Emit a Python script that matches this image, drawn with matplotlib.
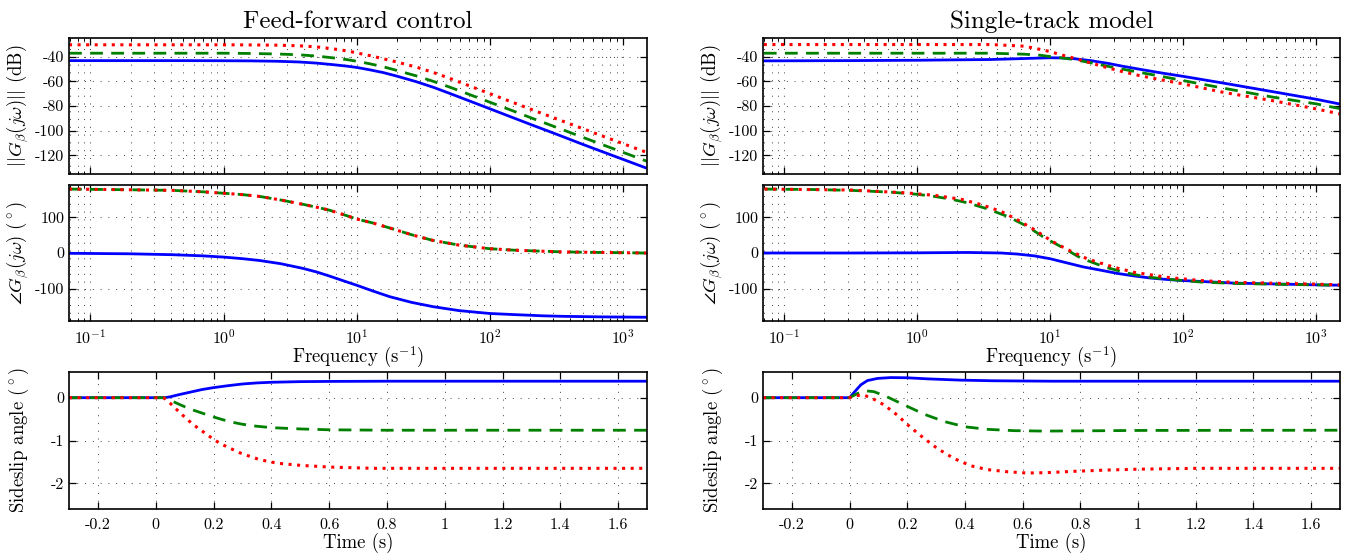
import matplotlib
matplotlib.use("Agg")
import matplotlib.pyplot as plt
from matplotlib.ticker import FixedLocator, FuncFormatter, LogLocator, NullFormatter

plt.rcParams['font.family'] = ['cmr10', 'DejaVu Serif']
plt.rcParams['mathtext.fontset'] = 'cm'
plt.rcParams['axes.unicode_minus'] = False
plt.rcParams['axes.formatter.use_mathtext'] = True

# ---------------- data ----------------
titles = ["Feed-forward control", "Single-track model"]

# Feed-forward: magnitude (dB)
ff_mag_w = [0.069, 0.2, 0.5, 1.0, 1.57, 2.5, 3.7, 5.0, 6.7, 8.5, 10, 12.5, 15.9, 20, 28, 38, 50, 70, 100, 150, 213, 300, 508, 700, 1000, 1520]
ff_mag_blue = [-43.3, -43.3, -43.3, -43.4, -43.5, -43.8, -44.4, -45.3, -46.6, -47.8, -48.8, -50.7, -53.0, -55.8, -60.3, -65.0, -69.8, -75.8, -82.2, -89.5, -95.8, -101.8, -111.3, -116.9, -123.1, -130.4]
ff_mag_green = [-37.3, -37.3, -37.3, -37.3, -37.5, -37.9, -38.6, -39.6, -41.1, -42.5, -43.8, -45.8, -48.3, -51.2, -55.6, -60.2, -64.7, -70.6, -76.9, -84.0, -90.3, -96.3, -105.6, -111.2, -117.4, -124.7]
ff_mag_red = [-30.5, -30.5, -30.5, -30.5, -30.6, -30.8, -31.3, -32.2, -33.8, -35.5, -37.0, -39.2, -41.8, -44.4, -48.5, -53.0, -57.6, -63.6, -70.0, -77.2, -83.4, -89.4, -98.6, -104.2, -110.4, -117.6]

# Single-track: magnitude (dB)
st_mag_w = [0.07, 0.3, 1.0, 1.51, 3.59, 6.38, 8.5, 10, 12, 15.1, 20.2, 26.9, 35, 47.9, 70, 100, 202, 479, 1000, 1500]
st_mag_blue = [-43.5, -43.3, -43.0, -42.8, -42.4, -41.6, -41.2, -41.0, -41.1, -41.7, -43.3, -45.4, -47.8, -50.4, -53.4, -56.0, -61.5, -68.5, -74.5, -78.3]
st_mag_green = [-37.3, -37.3, -37.3, -37.3, -37.3, -38.1, -39.0, -40.0, -41.0, -42.4, -45.0, -47.8, -50.2, -52.9, -56.2, -59.4, -65.6, -72.9, -78.2, -82.0]
st_mag_red = [-30.3, -30.3, -30.3, -30.3, -30.3, -31.6, -34.3, -36.0, -38.5, -41.3, -45.2, -49.0, -52.2, -55.6, -59.0, -62.1, -69.0, -75.8, -82.3, -86.3]

# Feed-forward: phase (deg)
ff_ph_w = [0.069, 0.196, 0.416, 0.7, 1.0, 1.4, 1.87, 2.7, 3.95, 5.0, 6.2, 8.0, 10, 13.2, 17.7, 25.9, 37.6, 59, 100, 150, 250, 358, 700, 1510]
ff_ph_blue = [-0.8, -2.2, -4.8, -8, -11.4, -16, -21, -30, -43, -53, -64, -78, -90, -106, -122, -138, -150, -161, -169, -172, -175.5, -177, -178.5, -179.5]
ff_ph_green = [178.6, 176.7, 175, 171, 167, 163, 158, 148, 136, 128, 120, 107, 95, 84, 70, 51, 35, 22, 12, 8, 5, 3, 1.5, 0]
ff_ph_red = [178.6, 176.7, 175, 171, 167, 163, 158, 148, 136, 128, 120, 107, 95, 84, 70, 51, 35, 22, 12, 8, 5, 3, 1.5, 0]

# Single-track: phase (deg)
st_ph_w_blue = [0.0708, 0.316, 1.0, 2.4, 4.27, 5.69, 7.59, 10, 13.5, 17.8, 24, 32, 42.7, 57, 75.9, 100, 240, 1000, 1514]
st_ph_blue = [0, 0, 0.5, 1.5, 0, -3, -8, -16, -28, -39, -48, -57, -64, -70, -74, -77, -84, -89, -90]
st_ph_w_green = [0.0708, 0.158, 0.316, 0.631, 1.0, 1.35, 1.82, 2.4, 3.39, 4.79, 6.76, 9.12, 12.9, 17.0, 25.7, 38.0, 53.7, 75.9, 135, 240, 631, 1000, 1514]
st_ph_green = [178.6, 177.5, 175, 170, 164, 158, 150, 140, 123, 102, 74, 42, 12, -14, -39, -56, -67, -73, -81, -85, -88, -89, -90]
st_ph_w_red = [0.0708, 0.316, 0.83, 1.36, 2.15, 3.04, 4.29, 5.72, 7.63, 10.2, 13.6, 19.2, 30.4, 42.9, 76.3, 136, 241, 1000, 1514]
st_ph_red = [178.6, 176, 168, 161, 150, 135, 116, 92, 65, 34, 9, -17, -40, -54, -68, -77, -82, -87, -89]

# Feed-forward: time response (deg)
ff_t_blue = [-0.3, 0.0, 0.03, 0.05, 0.08, 0.12, 0.16, 0.2, 0.25, 0.3, 0.35, 0.4, 0.5, 0.6, 0.8, 1.0, 1.7]
ff_y_blue = [0, 0, 0, 0.02, 0.07, 0.13, 0.19, 0.235, 0.28, 0.32, 0.345, 0.36, 0.375, 0.38, 0.385, 0.385, 0.385]
ff_t_green = [-0.3, 0.0, 0.03, 0.05, 0.073, 0.1, 0.13, 0.165, 0.2, 0.235, 0.27, 0.3, 0.34, 0.4, 0.5, 0.6, 0.8, 1.7]
ff_y_green = [0, 0, 0, -0.055, -0.13, -0.21, -0.29, -0.37, -0.45, -0.52, -0.58, -0.62, -0.66, -0.70, -0.73, -0.75, -0.76, -0.76]
ff_t_red = [-0.3, 0.0, 0.027, 0.05, 0.07, 0.09, 0.11, 0.13, 0.155, 0.177, 0.2, 0.223, 0.26, 0.292, 0.33, 0.361, 0.42, 0.5, 0.6, 0.754, 1.7]
ff_y_red = [0, 0, 0, -0.13, -0.26, -0.39, -0.51, -0.63, -0.75, -0.86, -0.97, -1.07, -1.19, -1.29, -1.38, -1.45, -1.53, -1.58, -1.62, -1.65, -1.65]

# Single-track: time response (deg)
st_t_blue = [-0.3, 0.0, 0.016, 0.039, 0.062, 0.097, 0.143, 0.2, 0.27, 0.385, 0.5, 0.7, 1.0, 1.7]
st_y_blue = [0, 0, 0.125, 0.30, 0.40, 0.45, 0.47, 0.465, 0.44, 0.41, 0.395, 0.385, 0.385, 0.385]
st_t_green = [-0.3, 0.0, 0.028, 0.057, 0.085, 0.13, 0.19, 0.26, 0.33, 0.40, 0.48, 0.57, 0.67, 0.8, 1.0, 1.7]
st_y_green = [0, 0, 0.10, 0.16, 0.14, 0.02, -0.17, -0.39, -0.56, -0.68, -0.74, -0.77, -0.78, -0.775, -0.765, -0.76]
st_t_red = [-0.3, 0.0, 0.022, 0.05, 0.08, 0.12, 0.166, 0.2, 0.247, 0.305, 0.362, 0.42, 0.478, 0.547, 0.616, 0.686, 0.778, 0.893, 1.0, 1.2, 1.7]
st_y_red = [0, 0, 0.05, 0.06, -0.02, -0.17, -0.41, -0.625, -0.89, -1.19, -1.42, -1.59, -1.68, -1.73, -1.76, -1.75, -1.72, -1.69, -1.67, -1.65, -1.65]

mag_ticks = [-120, -100, -80, -60, -40]
ph_ticks = [-100, 0, 100]
time_xticks = [-0.2, 0, 0.2, 0.4, 0.6, 0.8, 1.0, 1.2, 1.4, 1.6]
time_yticks = [-2, -1, 0]

# ---------------- styling ----------------
W, H = 1347, 554
fig = plt.figure(figsize=(W / 100, H / 100), dpi=100)

BLUE = (0, 0, 1)
GREEN = (0, 0.5, 0)
RED = (1, 0, 0)
LW = 2.0
sty_blue = dict(color=BLUE, lw=LW, ls='-')
sty_green = dict(color=GREEN, lw=LW, dashes=(4.6, 3.0))
sty_red = dict(color=RED, lw=LW + 0.2, dashes=(1, 1.8))

GRID = dict(color='0.25', lw=0.7, linestyle=(0, (1, 7)))


def box(x0, y0, x1, y1):
    return [x0 / W, 1 - y1 / H, (x1 - x0) / W, (y1 - y0) / H]


cols = [(69, 647), (763, 1340)]
rows = [(38, 174), (185, 321), (372, 509)]

TICKFS = 11.5
LABFS = 13.5
YLX = -0.066


def style(ax):
    for s in ax.spines.values():
        s.set_linewidth(1.2)
    ax.tick_params(which='both', direction='in', top=True, right=True, labelsize=TICKFS)
    ax.tick_params(which='major', length=5, width=0.9)
    ax.tick_params(which='minor', length=2.5, width=0.7)


gfmt = FuncFormatter(lambda v, p: ('%g' % v))

mags = [(ff_mag_w, ff_mag_blue, ff_mag_green, ff_mag_red),
        (st_mag_w, st_mag_blue, st_mag_green, st_mag_red)]
phs = [((ff_ph_w, ff_ph_blue), (ff_ph_w, ff_ph_green), (ff_ph_w, ff_ph_red)),
       ((st_ph_w_blue, st_ph_blue), (st_ph_w_green, st_ph_green), (st_ph_w_red, st_ph_red))]
tims = [((ff_t_blue, ff_y_blue), (ff_t_green, ff_y_green), (ff_t_red, ff_y_red)),
        ((st_t_blue, st_y_blue), (st_t_green, st_y_green), (st_t_red, st_y_red))]

for c, (x0, x1) in enumerate(cols):
    # magnitude
    ax = fig.add_axes(box(x0, rows[0][0], x1, rows[0][1]))
    w, b, g, r = mags[c]
    ax.semilogx(w, b, **sty_blue)
    ax.semilogx(w, g, **sty_green)
    ax.semilogx(w, r, **sty_red)
    ax.set_xlim(0.069, 1520)
    ax.set_ylim(-135, -25)
    ax.yaxis.set_major_locator(FixedLocator(mag_ticks))
    ax.yaxis.set_major_formatter(gfmt)
    ax.xaxis.set_major_locator(LogLocator(base=10, numticks=20))
    ax.xaxis.set_minor_locator(LogLocator(base=10, subs=range(2, 10), numticks=50))
    ax.xaxis.set_major_formatter(NullFormatter())
    ax.xaxis.set_minor_formatter(NullFormatter())
    ax.grid(True, which='major', **GRID)
    ax.grid(True, which='minor', axis='x', **GRID)
    style(ax)
    ax.set_ylabel(r'$||G_\beta(j\omega)||$ (dB)', fontsize=LABFS)
    ax.yaxis.set_label_coords(YLX, 0.5)
    ax.set_title(titles[c], fontsize=18, pad=7)

    # phase
    ax = fig.add_axes(box(x0, rows[1][0], x1, rows[1][1]))
    (wb, pb), (wg, pg), (wr, pr) = phs[c]
    ax.semilogx(wb, pb, **sty_blue)
    ax.semilogx(wg, pg, **sty_green)
    ax.semilogx(wr, pr, **sty_red)
    ax.set_xlim(0.069, 1520)
    ax.set_ylim(-190, 190)
    ax.yaxis.set_major_locator(FixedLocator(ph_ticks))
    ax.yaxis.set_major_formatter(gfmt)
    ax.xaxis.set_major_locator(LogLocator(base=10, numticks=20))
    ax.xaxis.set_minor_locator(LogLocator(base=10, subs=range(2, 10), numticks=50))
    ax.xaxis.set_minor_formatter(NullFormatter())
    ax.grid(True, which='major', **GRID)
    ax.grid(True, which='minor', axis='x', **GRID)
    style(ax)
    ax.tick_params(axis='x', which='major', pad=5)
    ax.set_ylabel(r'$\angle G_\beta(j\omega)\ (^\circ)$', fontsize=LABFS)
    ax.yaxis.set_label_coords(YLX, 0.5)
    ax.set_xlabel(r'Frequency $(\mathrm{s}^{-1})$', fontsize=LABFS, labelpad=-1)

    # time response
    ax = fig.add_axes(box(x0, rows[2][0], x1, rows[2][1]))
    (tb, yb), (tg, yg), (tr, yr) = tims[c]
    ax.plot(tb, yb, **sty_blue)
    ax.plot(tg, yg, **sty_green)
    ax.plot(tr, yr, **sty_red)
    ax.set_xlim(-0.3, 1.7)
    ax.set_ylim(-2.6, 0.6)
    ax.xaxis.set_major_locator(FixedLocator(time_xticks))
    ax.yaxis.set_major_locator(FixedLocator(time_yticks))
    ax.xaxis.set_major_formatter(gfmt)
    ax.yaxis.set_major_formatter(gfmt)
    ax.grid(True, which='major', **GRID)
    style(ax)
    ax.tick_params(axis='x', which='major', pad=7)
    ax.set_ylabel(r'Sideslip angle $(^\circ)$', fontsize=LABFS)
    ax.yaxis.set_label_coords(YLX, 0.5)
    ax.set_xlabel('Time (s)', fontsize=LABFS, labelpad=0)

fig.savefig('out.png', dpi=100)
